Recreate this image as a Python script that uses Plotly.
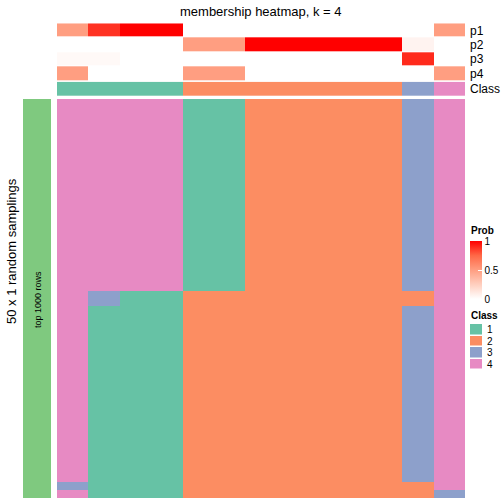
import plotly.graph_objects as go

W = H = 504
FONT = "Liberation Sans, Arial, Helvetica, sans-serif"

# ---------------- data ----------------
columns = list(range(13))
prob_rows = ["p1", "p2", "p3", "p4"]
p1 = [0.50, 0.88, 1.00, 1.00, 0, 0, 0, 0, 0, 0, 0, 0.00, 0.50]
p2 = [0.00, 0.00, 0.00, 0.00, 0.50, 0.50, 1, 1, 1, 1, 1, 0.06, 0.00]
p3 = [0.03, 0.03, 0.00, 0.00, 0, 0, 0, 0, 0, 0, 0, 0.90, 0.00]
p4 = [0.50, 0.00, 0.00, 0.00, 0.50, 0.50, 0, 0, 0, 0, 0, 0.00, 0.50]
class_row = [1, 1, 1, 1, 2, 2, 2, 2, 2, 2, 2, 3, 4]

# 50 random samplings x 13 columns (class per cell)
sampling_rows = [
    "4444112222234", "4444112222234", "4444112222234", "4444112222234", "4444112222234",
    "4444112222234", "4444112222234", "4444112222234", "4444112222234", "4444112222234",
    "4444112222234", "4444112222234", "4444112222234", "4444112222234", "4444112222234",
    "4444112222234", "4444112222234", "4444112222234", "4444112222234", "4444112222234",
    "4444112222234", "4444112222234", "4444112222234", "4444112222234",
    "4311222222224", "4311222222224",
    "4111222222234", "4111222222234", "4111222222234", "4111222222234", "4111222222234",
    "4111222222234", "4111222222234", "4111222222234", "4111222222234", "4111222222234",
    "4111222222234", "4111222222234", "4111222222234", "4111222222234", "4111222222234",
    "4111222222234", "4111222222234", "4111222222234", "4111222222234", "4111222222234",
    "4111222222234", "4111222222234",
    "3111222222224",
    "4111222222223",
]
main_z = [[int(ch) for ch in r] for r in sampling_rows]

class_levels = [1, 2, 3, 4]
class_colors = ["#66C2A5", "#FC8D62", "#8DA0CB", "#E78AC3"]
prob_ticks = [0, 0.5, 1]
prob_colorscale = [[0, "rgb(255,255,255)"], [0.25, "rgb(255,207,191)"],
                   [0.5, "rgb(255,158,129)"], [0.75, "rgb(255,104,70)"], [1, "rgb(255,0,0)"]]

# ------------- helpers -------------
def py(px):
    return 1 - px / H

def px_x(px):
    return px / W

class_cs = []
n = len(class_colors)
for i, c in enumerate(class_colors):
    class_cs.append([i / n, c])
    class_cs.append([(i + 1) / n, c])

fig = go.Figure()

# main heatmap
fig.add_trace(go.Heatmap(z=main_z, x=columns, y=list(range(len(main_z))),
                         colorscale=class_cs, zmin=0.5, zmax=4.5, showscale=False,
                         hoverinfo="skip", xaxis="x", yaxis="y"))
# probability rows
fig.add_trace(go.Heatmap(z=[p1, p2, p3, p4], x=columns, y=[0, 1, 2, 3],
                         colorscale=prob_colorscale, zmin=0, zmax=1, ygap=1,
                         hoverinfo="skip", xaxis="x", yaxis="y2",
                         colorbar=dict(x=px_x(470), xanchor="left", xpad=0, ypad=0,
                                       thickness=12, len=58, lenmode="pixels",
                                       y=py(241), yanchor="top", outlinewidth=0,
                                       tickvals=prob_ticks, ticktext=[str(v) for v in prob_ticks],
                                       ticks="inside", ticklen=4, tickcolor="white",
                                       tickfont=dict(family=FONT, size=10, color="black"))))
# class row
fig.add_trace(go.Heatmap(z=[class_row], x=columns, y=[0],
                         colorscale=class_cs, zmin=0.5, zmax=4.5, showscale=False,
                         hoverinfo="skip", xaxis="x", yaxis="y3"))
# left row annotation bar
fig.add_trace(go.Heatmap(z=[[1]], x=[0], y=[0],
                         colorscale=[[0, "#7FC97F"], [1, "#7FC97F"]], showscale=False,
                         hoverinfo="skip", xaxis="x2", yaxis="y4"))
# class legend swatches
fig.add_trace(go.Heatmap(z=[[v] for v in class_levels], x=[0], y=list(range(len(class_levels))),
                         colorscale=class_cs, zmin=0.5, zmax=4.5, showscale=False, ygap=1.5,
                         hoverinfo="skip", xaxis="x3", yaxis="y5"))

hid = dict(visible=False, showgrid=False, zeroline=False, fixedrange=True)
fig.update_layout(
    width=W, height=H, autosize=False,
    margin=dict(l=0, r=0, t=0, b=0),
    paper_bgcolor="white", plot_bgcolor="white",
    font=dict(family=FONT, color="black"),
    xaxis=dict(domain=[px_x(57), px_x(465)], range=[-0.5, 12.5], **hid),
    yaxis=dict(domain=[py(498), py(99)], range=[49.5, -0.5], anchor="x", **hid),
    yaxis2=dict(domain=[py(81), py(23.3)], range=[3.5, -0.5], anchor="x", **hid),
    yaxis3=dict(domain=[py(96), py(81.7)], range=[0.5, -0.5], anchor="x", **hid),
    xaxis2=dict(domain=[px_x(23), px_x(51)], range=[-0.5, 0.5], **hid),
    yaxis4=dict(domain=[py(498), py(99)], range=[0.5, -0.5], anchor="x2", **hid),
    xaxis3=dict(domain=[px_x(470), px_x(482)], range=[-0.5, 0.5], **hid),
    yaxis5=dict(domain=[py(370), py(324)], range=[3.5, -0.5], anchor="x3", **hid),
)

ann = []
ann.append(dict(text="membership heatmap, k = 4", x=px_x(261), y=py(11.5), xref="paper", yref="paper",
                showarrow=False, xanchor="center", yanchor="middle", font=dict(size=13)))
for i, lab in enumerate(prob_rows):
    ann.append(dict(text=lab, x=px_x(468), y=i, xref="paper", yref="y2", showarrow=False,
                    xanchor="left", yanchor="middle", font=dict(size=12)))
ann.append(dict(text="Class", x=px_x(468), y=0, xref="paper", yref="y3", showarrow=False,
                xanchor="left", yanchor="middle", font=dict(size=12)))
ann.append(dict(text="50 x 1 random samplings", x=px_x(11), y=py(251), xref="paper", yref="paper",
                showarrow=False, textangle=-90, xanchor="center", yanchor="middle", font=dict(size=13)))
ann.append(dict(text="top 1000 rows", x=px_x(38), y=py(300), xref="paper", yref="paper",
                showarrow=False, textangle=-90, xanchor="center", yanchor="middle", font=dict(size=9)))
ann.append(dict(text="<b>Prob</b>", x=px_x(469), y=py(231), xref="paper", yref="paper",
                showarrow=False, xanchor="left", yanchor="middle", font=dict(size=10)))
ann.append(dict(text="<b>Class</b>", x=px_x(469), y=py(315), xref="paper", yref="paper",
                showarrow=False, xanchor="left", yanchor="middle", font=dict(size=10)))
for i, lev in enumerate(class_levels):
    ann.append(dict(text=str(lev), x=px_x(485), y=i, xref="paper", yref="y5", showarrow=False,
                    xanchor="left", yanchor="middle", font=dict(size=10)))
fig.update_layout(annotations=ann)

fig.write_html("out.html", config={"displayModeBar": False},
               post_script="document.body.style.margin='0';document.body.style.overflow='hidden';")
